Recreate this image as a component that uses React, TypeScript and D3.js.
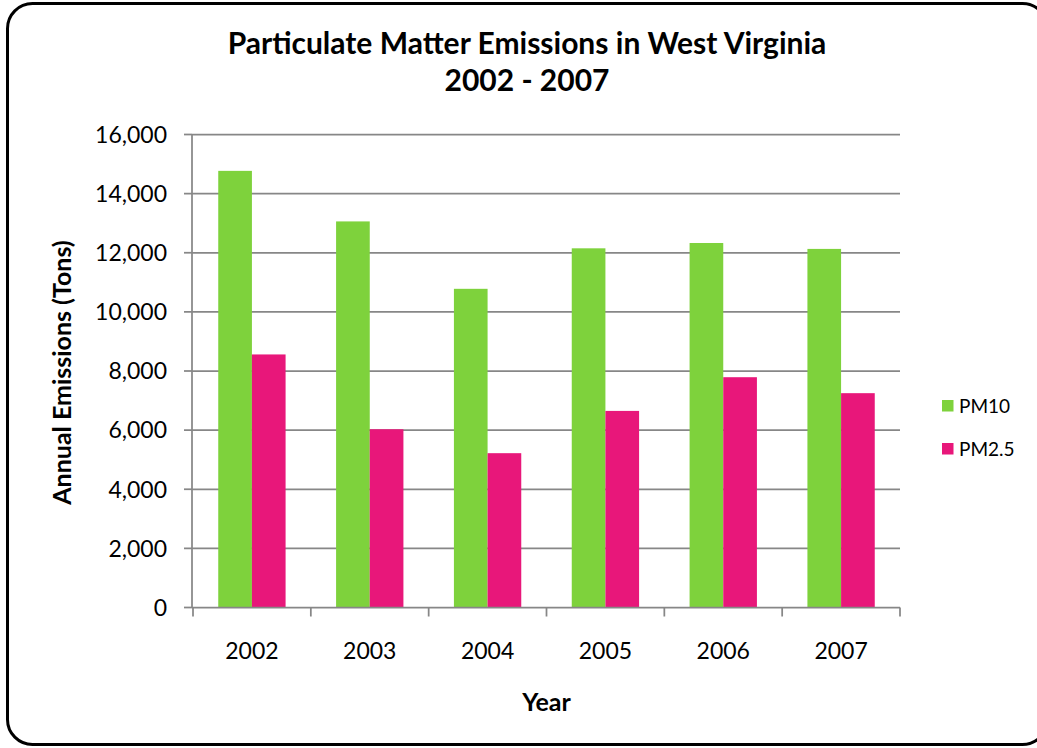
import React from "react";
import * as d3 from "d3";

const years = ["2002", "2003", "2004", "2005", "2006", "2007"];
const pm10 = [14770, 13060, 10780, 12150, 12330, 12130];
const pm25 = [8560, 6030, 5220, 6650, 7790, 7250];
const seriesNames = ["PM10", "PM2.5"];
const seriesColors = ["#7ED23C", "#E8177A"];
const yTicks = [0, 2000, 4000, 6000, 8000, 10000, 12000, 14000, 16000];

const W = 1037;
const H = 748;
const plotLeft = 193;
const plotRight = 900;
const plotTop = 134.5;
const plotBottom = 607.5;
const FONT = "Lato, 'Open Sans', sans-serif";
const AXIS = "#878787";

export default function App() {
  const x0 = d3.scaleBand<string>().domain(years).range([plotLeft, plotRight]).paddingInner(0).paddingOuter(0);
  const x1 = d3
    .scaleBand<string>()
    .domain(seriesNames)
    .range([0, x0.bandwidth()])
    .paddingInner(0)
    .paddingOuter(0.75);
  const y = d3.scaleLinear().domain([0, 16000]).range([plotBottom, plotTop]);
  const fmt = d3.format(",");
  const data = [pm10, pm25];
  const boundaries = years.map((yr) => x0(yr) as number).concat([plotRight]);

  return (
    <svg width={W} height={H} style={{ position: "absolute", left: 0, top: 0, display: "block" }}>
      <rect x={0} y={0} width={W} height={H} fill="#fff" />
      <rect x={7.5} y={3.5} width={1040} height={741} rx={25} ry={25} fill="#fff" stroke="#000" strokeWidth={3} />
      {/* gridlines */}
      {yTicks.slice(1).map((t) => (
        <line key={t} x1={plotLeft - 1} x2={plotRight} y1={y(t)} y2={y(t)} stroke={AXIS} strokeWidth={1.75} />
      ))}
      {/* bars */}
      {seriesNames.map((s, si) =>
        years.map((yr, i) => {
          const v = data[si][i];
          return (
            <rect
              key={s + yr}
              x={(x0(yr) as number) + (x1(s) as number)}
              y={y(v)}
              width={x1.bandwidth()}
              height={plotBottom - y(v)}
              fill={seriesColors[si]}
            />
          );
        })
      )}
      {/* y axis */}
      <line x1={plotLeft - 1} x2={plotLeft - 1} y1={plotTop} y2={plotBottom} stroke={AXIS} strokeWidth={1.75} />
      {yTicks.map((t) => (
        <g key={"yt" + t}>
          <line x1={plotLeft - 9} x2={plotLeft - 1} y1={y(t)} y2={y(t)} stroke={AXIS} strokeWidth={1.75} />
          <text x={167} y={y(t)} dy="0.36em" textAnchor="end" fontFamily={FONT} fontSize={23} fill="#000">
            {fmt(t)}
          </text>
        </g>
      ))}
      {/* x axis */}
      <line x1={plotLeft - 1} x2={plotRight} y1={plotBottom} y2={plotBottom} stroke={AXIS} strokeWidth={1.75} />
      {boundaries.map((bx, i) => (
        <line key={"xt" + i} x1={bx} x2={bx} y1={plotBottom} y2={plotBottom + 9} stroke={AXIS} strokeWidth={1.75} />
      ))}
      {years.map((yr) => (
        <text
          key={"xl" + yr}
          x={(x0(yr) as number) + x0.bandwidth() / 2}
          y={658.5}
          textAnchor="middle"
          fontFamily={FONT}
          fontSize={23}
          fill="#000"
        >
          {yr}
        </text>
      ))}
      {/* titles */}
      <text x={527} y={54} textAnchor="middle" fontFamily={FONT} fontWeight="bold" fontSize={30} fill="#000">
        Particulate Matter Emissions in West Virginia
      </text>
      <text x={527} y={91} textAnchor="middle" fontFamily={FONT} fontWeight="bold" fontSize={30} fill="#000">
        2002 - 2007
      </text>
      <text
        transform={`translate(70.5,372.5) rotate(-90)`}
        textAnchor="middle"
        fontFamily={FONT}
        fontWeight="bold"
        fontSize={25}
        fill="#000"
      >
        Annual Emissions (Tons)
      </text>
      <text x={546.5} y={711} textAnchor="middle" fontFamily={FONT} fontWeight="bold" fontSize={25} fill="#000">
        Year
      </text>
      {/* legend */}
      {seriesNames.map((s, i) => (
        <g key={"lg" + s} transform={`translate(942, ${400 + i * 43})`}>
          <rect x={0} y={0} width={11.5} height={11.5} fill={seriesColors[i]} />
          <text x={17} y={6} dy="0.36em" fontFamily={FONT} fontSize={19} fill="#000">
            {s}
          </text>
        </g>
      ))}
    </svg>
  );
}
